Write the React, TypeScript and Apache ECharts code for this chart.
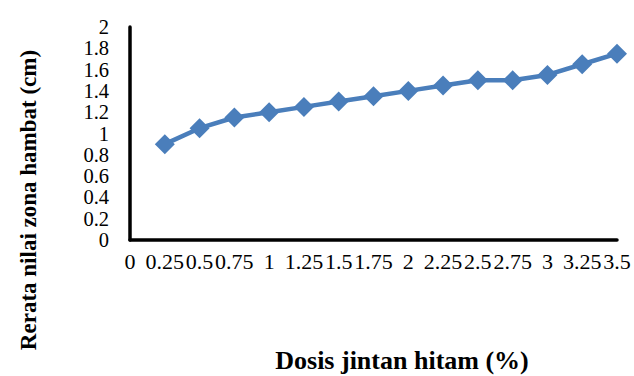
import React, { useEffect, useRef } from "react";
import * as echarts from "echarts";

const doses = [0.25, 0.5, 0.75, 1, 1.25, 1.5, 1.75, 2, 2.25, 2.5, 2.75, 3, 3.25, 3.5];
const zoneValues = [0.9, 1.05, 1.15, 1.2, 1.25, 1.3, 1.35, 1.4, 1.45, 1.5, 1.5, 1.55, 1.65, 1.75];
const xTitle = "Dosis jintan hitam (%)";
const yTitle = "Rerata nilai zona hambat (cm)";

const FONT = "'Liberation Serif', 'Times New Roman', serif";

export default function App() {
  const ref = useRef<HTMLDivElement>(null);
  useEffect(() => {
    if (!ref.current) return;
    const chart = echarts.init(ref.current, undefined, { renderer: "svg" });
    chart.setOption({
      animation: false,
      backgroundColor: "#ffffff",
      grid: { left: 130, right: 17, top: 27, bottom: 136, containLabel: false },
      xAxis: {
        type: "value",
        min: 0,
        max: 3.5,
        interval: 0.25,
        axisLine: { show: true, onZero: false, lineStyle: { color: "#000", width: 3.5 } },
        axisTick: { show: false },
        splitLine: { show: false },
        axisLabel: {
          color: "#000",
          fontFamily: FONT,
          fontSize: 22,
          margin: 10,
          showMinLabel: true,
          showMaxLabel: true,
          hideOverlap: false,
          formatter: (v: number) => String(v),
        },
      },
      yAxis: {
        type: "value",
        min: 0,
        max: 2,
        interval: 0.2,
        axisLine: { show: true, lineStyle: { color: "#000", width: 3.5 } },
        axisTick: { show: false },
        splitLine: { show: false },
        axisLabel: {
          color: "#000",
          fontFamily: FONT,
          fontSize: 20.5,
          lineHeight: 20,
          margin: 21,
          showMinLabel: true,
          showMaxLabel: true,
          hideOverlap: false,
          formatter: (v: number) => String(Math.round(v * 10) / 10),
        },
      },
      series: [
        {
          type: "line",
          data: doses.map((d, i) => [d, zoneValues[i]]),
          symbol: "diamond",
          symbolSize: 20,
          lineStyle: { color: "#4A7EBB", width: 4.5 },
          itemStyle: { color: "#4A7EBB" },
          z: 3,
        },
      ],
      graphic: [
        {
          type: "text",
          x: 402,
          y: 360,
          style: {
            text: xTitle,
            fontFamily: FONT,
            fontSize: 26,
            fontWeight: "bold",
            fill: "#000",
            align: "center",
            verticalAlign: "middle",
          },
        },
        {
          type: "text",
          x: 28,
          y: 200,
          rotation: Math.PI / 2,
          style: {
            text: yTitle,
            fontFamily: FONT,
            fontSize: 23,
            fontWeight: "bold",
            fill: "#000",
            align: "center",
            verticalAlign: "middle",
          },
        },
      ],
    });
    return () => chart.dispose();
  }, []);
  return (
    <div
      ref={ref}
      style={{ position: "fixed", left: 0, top: 0, width: 634, height: 376, background: "#fff" }}
    />
  );
}
